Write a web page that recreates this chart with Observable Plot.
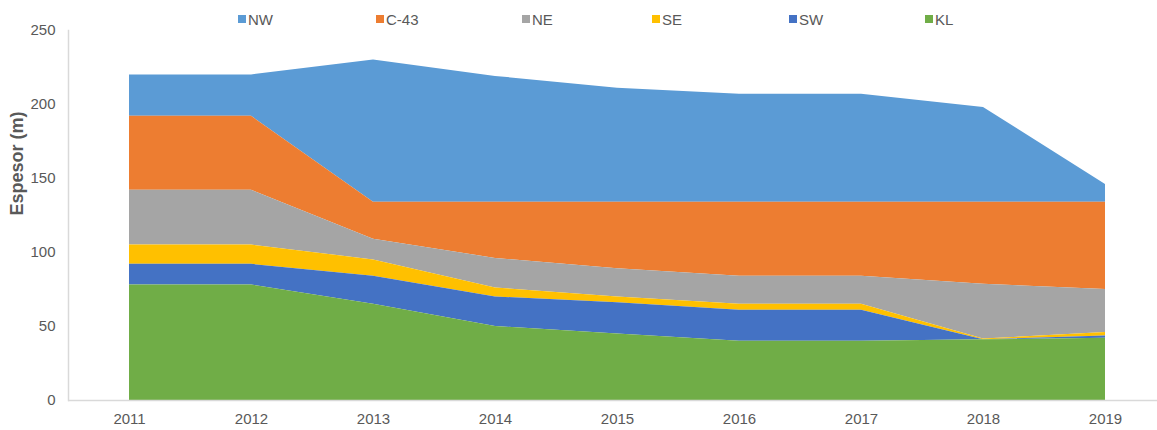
<!DOCTYPE html>
<html><head><meta charset="utf-8">
<script src="https://cdn.jsdelivr.net/npm/d3@7"></script>
<script src="https://cdn.jsdelivr.net/npm/@observablehq/plot@0.6"></script>
<style>
body{margin:0;background:#fff;font-family:"Liberation Sans",Arial,sans-serif;}
#wrap{position:relative;width:1157px;height:430px;}
#legend{position:absolute;top:10px;left:0;width:1157px;height:18px;z-index:2;}
.item{position:absolute;top:0;height:18px;display:flex;align-items:center;font-size:15px;color:#595959;white-space:nowrap;}
.sq{width:8px;height:8px;margin-right:2px;display:inline-block;}
</style></head><body>
<div id="wrap"><div id="legend"></div><div id="chart"></div></div>
<script>
const years = [2011, 2012, 2013, 2014, 2015, 2016, 2017, 2018, 2019];
const seriesNames = ["NW", "C-43", "NE", "SE", "SW", "KL"];
const KL  = [78, 78, 65, 50, 45, 40, 40, 41, 42];
const SW  = [14, 14, 19, 20, 21, 21, 21, 0, 1.5];
const SE  = [13, 13, 11, 6, 4, 4, 4, 0.5, 2.5];
const NE  = [37, 37, 14, 20, 19, 19, 19, 37, 29];
const C43 = [50, 50, 25, 38, 45, 50, 50, 55.5, 59];
const NW  = [28, 28, 96, 85, 77, 73, 73, 64, 12];
const yTicks = [0, 50, 100, 150, 200, 250];
const colors = ["#5B9BD5", "#ED7D31", "#A5A5A5", "#FFC000", "#4472C4", "#70AD47"];

const valuesByName = {"NW": NW, "C-43": C43, "NE": NE, "SE": SE, "SW": SW, "KL": KL};
const data = seriesNames.flatMap(name => years.map((yr, i) => ({year: yr, series: name, value: valuesByName[name][i]})));
const stackOrder = ["KL", "SW", "SE", "NE", "C-43", "NW"];

const chart = Plot.plot({
  width: 1157,
  height: 430,
  marginLeft: 68,
  marginRight: 0,
  marginTop: 30,
  marginBottom: 30,
  style: {fontFamily: "'Liberation Sans', Arial, sans-serif", fontSize: "15px", color: "#595959", background: "#fff", overflow: "visible"},
  x: {type: "point", domain: years, range: [129, 1105], padding: 0},
  y: {domain: [0, 250], range: [400, 30]},
  color: {domain: seriesNames, range: colors},
  marks: [
    Plot.areaY(data, {x: "year", y: "value", z: "series", fill: "series", order: stackOrder, fillOpacity: 1}),
    Plot.ruleY([0], {stroke: "#d9d9d9", strokeWidth: 1.5}),
    Plot.frame({anchor: "left", stroke: "#d9d9d9", strokeWidth: 1.5}),
    Plot.axisY({ticks: yTicks, tickSize: 0, tickPadding: 13, label: null, fill: "#595959", fontSize: 15}),
    Plot.axisX({tickSize: 0, tickPadding: 13, label: null, tickFormat: d => String(d), fill: "#595959", fontSize: 15}),
    Plot.text(["Espesor (m)"], {frameAnchor: "left", dx: -51, rotate: -90, fontWeight: "bold", fontSize: 18, fill: "#595959"})
  ]
});
document.getElementById("chart").appendChild(chart);

const legendLefts = [238, 376, 522, 652, 789, 925];
const legend = document.getElementById("legend");
seriesNames.forEach((name, i) => {
  const it = document.createElement("div");
  it.className = "item";
  it.style.left = legendLefts[i] + "px";
  const sq = document.createElement("span");
  sq.className = "sq";
  sq.style.background = colors[i];
  it.appendChild(sq);
  it.appendChild(document.createTextNode(name));
  legend.appendChild(it);
});
</script>
</body></html>
